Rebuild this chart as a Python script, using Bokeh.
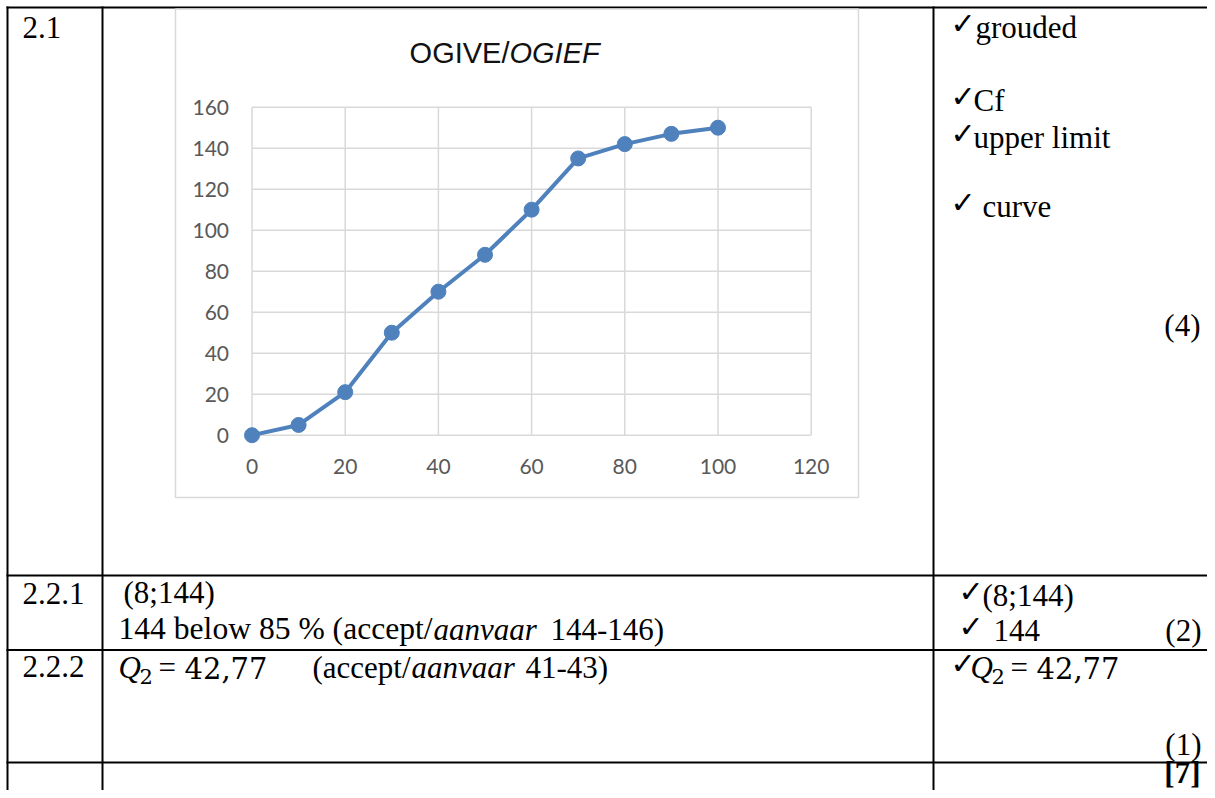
from bokeh.plotting import figure
from bokeh.models import Range1d
from bokeh.core.properties import value
from bokeh.embed import file_html
from bokeh.resources import INLINE

# ---------------- data ----------------
upper_limits = [0, 10, 20, 30, 40, 50, 60, 70, 80, 90, 100]
cum_freq = [0, 5, 21, 50, 70, 88, 110, 135, 142, 147, 150]
x_ticks = [0, 20, 40, 60, 80, 100, 120]
y_ticks = [0, 20, 40, 60, 80, 100, 120, 140, 160]
title_upright = "OGIVE/"
title_italic = "OGIEF"

# ---------------- page geometry (picture pixels) ----------------
W, H = 1207, 790
L, T = 0, 0
R, B = L + W, T + H

p = figure(width=W, height=H, x_range=Range1d(L, R), y_range=Range1d(B, T),
           x_axis_type=None, y_axis_type=None, output_backend="svg",
           toolbar_location=None, min_border=0, outline_line_color=None,
           background_fill_color="white", border_fill_color="white")

# chart scales mapped into the page
cx0, cx120 = 251.5, 810.7
cy0, cy160 = 434.7, 106.7
ppx = (cx120 - cx0) / x_ticks[-1]
ppy = (cy0 - cy160) / y_ticks[-1]
p.extra_x_ranges = {"cx": Range1d(start=(L - cx0) / ppx, end=(R - cx0) / ppx)}
p.extra_y_ranges = {"cy": Range1d(start=(cy0 - B) / ppy, end=(cy0 - T) / ppy)}
CH = dict(x_range_name="cx", y_range_name="cy")

# ---------------- table lines ----------------
hy = [7, 575, 649.5, 762]
p.segment(x0=[6] * len(hy), y0=hy, x1=[R] * len(hy), y1=hy, line_color="black", line_width=2)
vx = [7, 102, 933]
p.segment(x0=vx, y0=[6] * len(vx), x1=vx, y1=[B] * len(vx), line_color="black", line_width=2)

# ---------------- chart ----------------
p.quad(left=[175], right=[858], top=[8.5], bottom=[497], fill_color="white",
       line_color="#D9D9D9", line_width=1.5)

grid_col = "#D9D9D9"
p.segment(x0=x_ticks, y0=[y_ticks[0]] * len(x_ticks), x1=x_ticks, y1=[y_ticks[-1]] * len(x_ticks),
          line_color=grid_col, line_width=1.5, **CH)
p.segment(x0=[x_ticks[0]] * len(y_ticks), y0=y_ticks, x1=[x_ticks[-1]] * len(y_ticks), y1=y_ticks,
          line_color=grid_col, line_width=1.5, **CH)

blue = "#4F81BD"
p.line(upper_limits, cum_freq, line_color=blue, line_width=4, **CH)
p.scatter(upper_limits, cum_freq, size=15, marker="circle", fill_color=blue, line_color=blue, **CH)

tick_font = value("Lato")
p.text(x=[x_ticks[0]] * len(y_ticks), y=y_ticks, text=[str(v) for v in y_ticks],
       x_offset=-23, text_align="right", text_baseline="middle",
       text_font=tick_font, text_font_size="21px", text_color="#595959", **CH)
p.text(x=x_ticks, y=[y_ticks[0]] * len(x_ticks), text=[str(v) for v in x_ticks],
       y_offset=31, text_align="center", text_baseline="middle",
       text_font=tick_font, text_font_size="21px", text_color="#595959", **CH)

# baseline correction for alphabetic text (em fraction)
BL = 0.37

p.text(x=[509], y=[63], text=[title_upright], text_align="right", text_baseline="alphabetic",
       y_offset=-BL * 29,
       text_font=value("Liberation Sans"), text_font_size="29px", text_color="#111111")
p.text(x=[509], y=[63], text=[title_italic], text_align="left", text_baseline="alphabetic",
       y_offset=-BL * 29,
       text_font=value("Liberation Sans"), text_font_size="29px", text_font_style="italic",
       text_color="#111111")

# ---------------- table texts ----------------
SERIF = value("Liberation Serif")


def t(x, y, s, size=31, style="normal", align="left", font=SERIF):
    p.text(x=[x], y=[y], text=[s], text_align=align, text_baseline="alphabetic",
           y_offset=-BL * size,
           text_font=font, text_font_size=f"{size}px", text_font_style=style, text_color="black")


def check(x, y):
    size = 30
    p.text(x=[x], y=[y - 4], text=["\u2713"], text_align="left", text_baseline="alphabetic",
           y_offset=-BL * size,
           text_font=value("DejaVu Sans"), text_font_size=f"{size}px", text_color="black")


def q2(x, y):
    t(x, y, "Q", style="italic")
    t(x + 21, y + 6, "2", size=21, font=value("DejaVu Serif"))
    t(x + 40, y, "=")
    t(x + 66, y, "42,77", size=29, font=value("DejaVu Serif"))


# left column
t(22, 38, "2.1")
t(22, 604, "2.2.1")
t(22, 677, "2.2.2")

# middle column
t(123, 603, "(8;144)")
t(118, 640, "144 below 85 % (accept/", size=31.6)
t(433, 640, "aanvaar", style="italic")
t(550, 640, "144-146)")

q2(118, 678)
t(312, 678, "(accept/")
t(411, 678, "aanvaar", style="italic")
t(525, 678, "41-43)")

# right column
check(950, 38)
t(975, 38, "grouded")
check(950, 111)
t(973, 111, "Cf")
check(950, 148)
t(973, 148, "upper limit")
check(950, 217)
t(982, 217, "curve")
t(1200, 336, "(4)", align="right")

check(958, 606)
t(982, 606, "(8;144)")
check(958, 641)
t(993, 641, "144")
t(1201, 641, "(2)", align="right")

check(950, 678)
q2(970, 678)
t(1201, 755, "(1)", align="right")
t(1200, 783, "[7]", style="bold", align="right")

open("out.html", "w").write(file_html(p, INLINE))
